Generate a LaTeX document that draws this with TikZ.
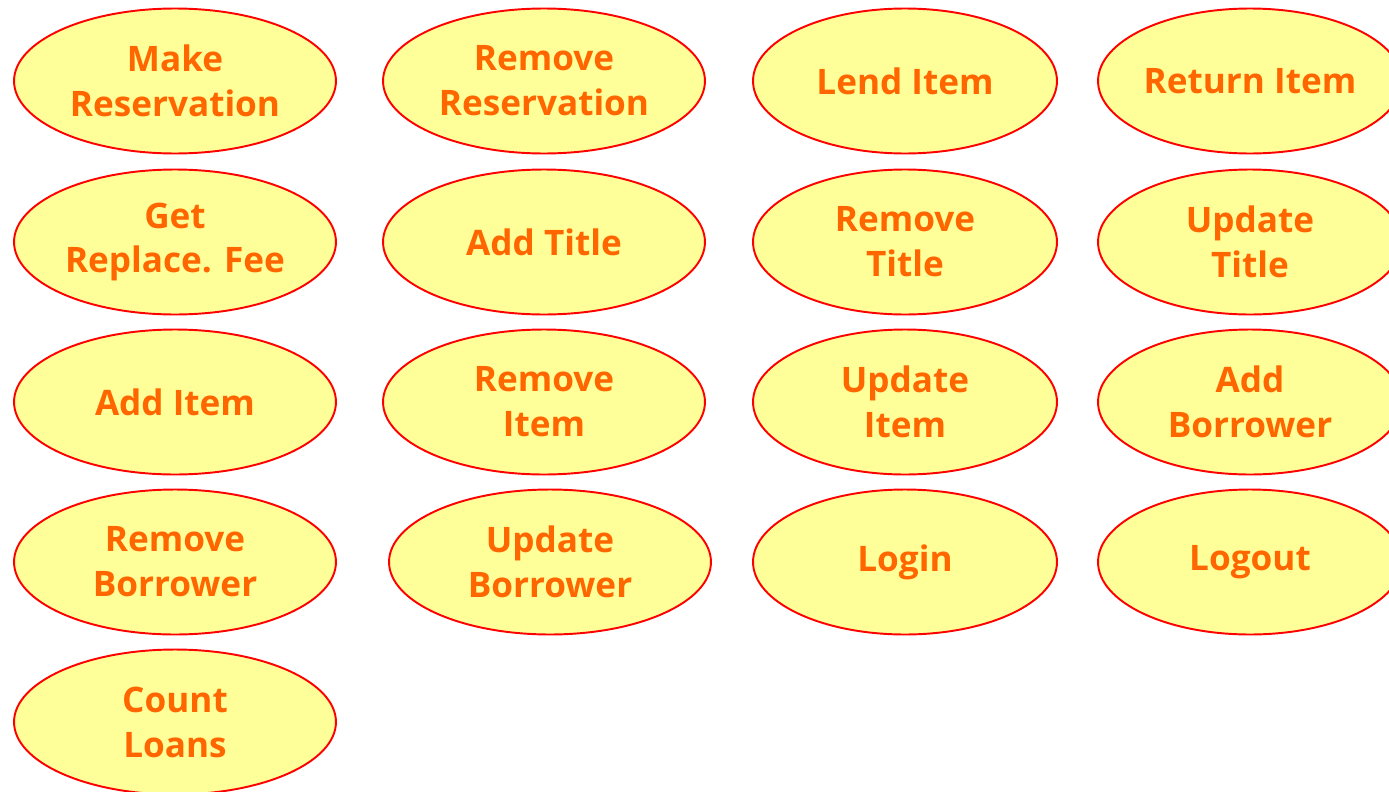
\documentclass[tikz,border=0pt]{standalone}
\usepackage{fontspec}
\setmainfont{Open Sans}
\usetikzlibrary{shapes.geometric}

\definecolor{casefill}{HTML}{FFFF99}
\definecolor{casetext}{HTML}{FF6600}

\tikzset{
  usecase/.style={ellipse, draw=red, fill=casefill, line width=1.1pt,
    text=casetext, font=\bfseries\fontsize{20}{25.6}\selectfont,
    align=center, inner sep=0pt,
    minimum width=6.44cm, minimum height=2.9cm},
  usecasenarrow/.style={usecase, minimum width=6.08cm}
}

\begin{document}
\begin{tikzpicture}[x=0.02cm, y=-0.02cm]

  % Bounding box of the scheme
  \useasboundingbox (0,0) rectangle (1389,791) ;

  %%%%%%%%%%%%%%%%%%%%%%%%%%%%%%%%% Row 1 %%%%%%%%%%%%%%%%%%%%%%%%%%%%%%%%%%%%
  \draw (175,81) node[usecase] (1) {Make\\Reservation} ;
  \draw (544,81) node[usecase] (2) {Remove\\Reservation} ;
  \draw (905,81) node[usecasenarrow] (3) {Lend Item} ;
  \draw (1250,81) node[usecasenarrow] (4) {Return Item} ;

  %%%%%%%%%%%%%%%%%%%%%%%%%%%%%%%%% Row 2 %%%%%%%%%%%%%%%%%%%%%%%%%%%%%%%%%%%%
  \draw (175,242) node[usecase] (5) {Get\\Replace. Fee} ;
  \draw (544,242) node[usecase] (6) {Add Title} ;
  \draw (905,242) node[usecasenarrow] (7) {Remove\\Title} ;
  \draw (1250,242) node[usecasenarrow] (8) {Update\\Title} ;

  %%%%%%%%%%%%%%%%%%%%%%%%%%%%%%%%% Row 3 %%%%%%%%%%%%%%%%%%%%%%%%%%%%%%%%%%%%
  \draw (175,402) node[usecase] (9) {Add Item} ;
  \draw (544,402) node[usecase] (10) {Remove\\Item} ;
  \draw (905,402) node[usecasenarrow] (11) {Update\\Item} ;
  \draw (1250,402) node[usecasenarrow] (12) {Add\\Borrower} ;

  %%%%%%%%%%%%%%%%%%%%%%%%%%%%%%%%% Row 4 %%%%%%%%%%%%%%%%%%%%%%%%%%%%%%%%%%%%
  \draw (175,562) node[usecase] (13) {Remove\\Borrower} ;
  \draw (550,562) node[usecase] (14) {Update\\Borrower} ;
  \draw (905,562) node[usecasenarrow] (15) {Login} ;
  \draw (1250,562) node[usecasenarrow] (16) {Logout} ;

  %%%%%%%%%%%%%%%%%%%%%%%%%%%%%%%%% Row 5 %%%%%%%%%%%%%%%%%%%%%%%%%%%%%%%%%%%%
  \draw (175,722) node[usecase] (17) {Count\\Loans} ;

\end{tikzpicture}
\end{document}
